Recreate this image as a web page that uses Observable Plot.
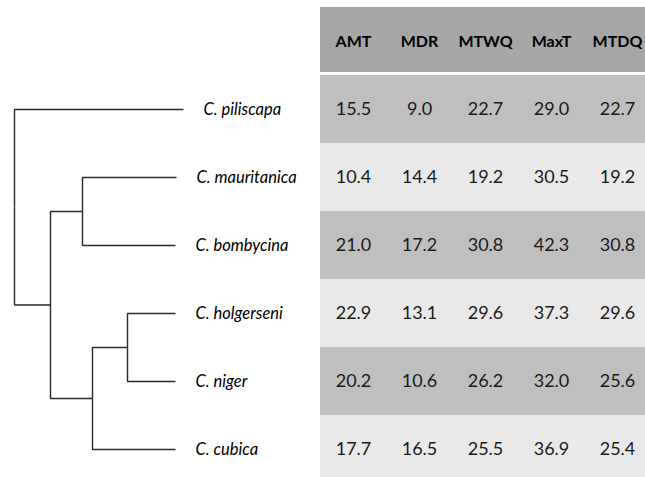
<!DOCTYPE html>
<html>
<head>
<meta charset="utf-8">
<script src="https://cdn.jsdelivr.net/npm/d3@7"></script>
<script src="https://cdn.jsdelivr.net/npm/@observablehq/plot@0.6"></script>
<style>
  html, body { margin: 0; padding: 0; background: #fff; }
  #chart { display: flex; flex-direction: row; width: 645px; height: 477px; overflow: hidden; }
  #chart svg { display: block; flex: none; }
</style>
</head>
<body>
<div id="chart"></div>
<script>
// ---- Data ----
const species = ["C. piliscapa", "C. mauritanica", "C. bombycina", "C. holgerseni", "C. niger", "C. cubica"];
const columns = ["AMT", "MDR", "MTWQ", "MaxT", "MTDQ"];
const AMT  = [15.5, 10.4, 21.0, 22.9, 20.2, 17.7];
const MDR  = [9.0, 14.4, 17.2, 13.1, 10.6, 16.5];
const MTWQ = [22.7, 19.2, 30.8, 29.6, 26.2, 25.5];
const MaxT = [29.0, 30.5, 42.3, 37.3, 32.0, 36.9];
const MTDQ = [22.7, 19.2, 30.8, 29.6, 25.6, 25.4];

// tree topology and branch lengths
const nodeIds       = ["root", "A", "B", "C", "D", "C. piliscapa", "C. mauritanica", "C. bombycina", "C. holgerseni", "C. niger", "C. cubica"];
const nodeParents   = [null, "root", "A", "A", "C", "root", "B", "B", "D", "D", "C"];
const branchLengths = [0, 36, 32, 42, 35, 169, 94, 93, 48, 48, 83];

// ---- Build tables ----
const series = {AMT, MDR, MTWQ, MaxT, MTDQ};
const cells = [];
species.forEach((s, i) => columns.forEach(c => cells.push({species: s, i, col: c, value: series[c][i]})));

const parentOf = new Map(nodeIds.map((id, k) => [id, nodeParents[k]]));
const lenOf = new Map(nodeIds.map((id, k) => [id, branchLengths[k]]));
const childrenOf = new Map(nodeIds.map(id => [id, []]));
nodeIds.forEach((id, k) => { if (nodeParents[k]) childrenOf.get(nodeParents[k]).push(id); });
const depth = new Map();
function setDepth(id, d) { depth.set(id, d); childrenOf.get(id).forEach(ch => setDepth(ch, d + lenOf.get(ch))); }
setDepth("root", 0);
const yPos = new Map();
function setY(id) {
  const ch = childrenOf.get(id);
  if (ch.length === 0) { yPos.set(id, species.indexOf(id) + 0.5); return yPos.get(id); }
  const ys = ch.map(setY);
  const v = (ys[0] + ys[ys.length - 1]) / 2;
  yPos.set(id, v);
  return v;
}
setY("root");
const links = nodeIds.filter(id => parentOf.get(id)).map(id => ({
  x1: depth.get(parentOf.get(id)), y1: yPos.get(parentOf.get(id)),
  x2: depth.get(id), y2: yPos.get(id)
}));
const tips = species.map(s => ({name: s, x: depth.get(s), y: yPos.get(s)}));

const H = 477;
const yScale = {domain: [0, 6], range: [75, 75 + 6 * 68]};

const tree = Plot.plot({
  width: 320, height: H,
  marginLeft: 0, marginRight: 0, marginTop: 0, marginBottom: 0,
  x: {domain: [0, 306], range: [14, 320], axis: null},
  y: {...yScale, axis: null},
  marks: [
    Plot.link(links, {x1: "x1", y1: "y1", x2: "x2", y2: "y2", curve: "step-before", stroke: "#2a2a2a", strokeWidth: 1.4}),
    Plot.text(tips, {x: "x", y: "y", text: "name", dx: 20, textAnchor: "start",
      fontStyle: "italic", fontSize: 16.5, fontFamily: "Lato", fill: "#000"})
  ]
});

const table = Plot.plot({
  width: 325, height: H,
  marginLeft: 0, marginRight: 0, marginTop: 0, marginBottom: 0,
  x: {type: "band", domain: columns, range: [-1, 330], padding: 0, axis: null},
  y: {...yScale, axis: null},
  color: {type: "identity"},
  marks: [
    Plot.barY(columns, {x: d => d, y1: -1, y2: 0, insetBottom: 3, fill: "#a6a6a6", shapeRendering: "crispEdges"}),
    Plot.barY(cells, {x: "col", y1: d => d.i, y2: d => d.i + 1, fill: d => d.i % 2 === 0 ? "#bfbfbf" : "#e9e9e9", shapeRendering: "crispEdges"}),
    Plot.text(columns, {x: d => d, y: -0.5, text: d => d, fontWeight: "bold", fontSize: 16, fontFamily: "Lato", fill: "#000"}),
    Plot.text(cells, {x: "col", y: d => d.i + 0.5, text: d => d.value.toFixed(1), fontSize: 18, fontFamily: "Lato", fill: "#1a1a1a"})
  ]
});

document.getElementById("chart").append(tree, table);
</script>
</body>
</html>
